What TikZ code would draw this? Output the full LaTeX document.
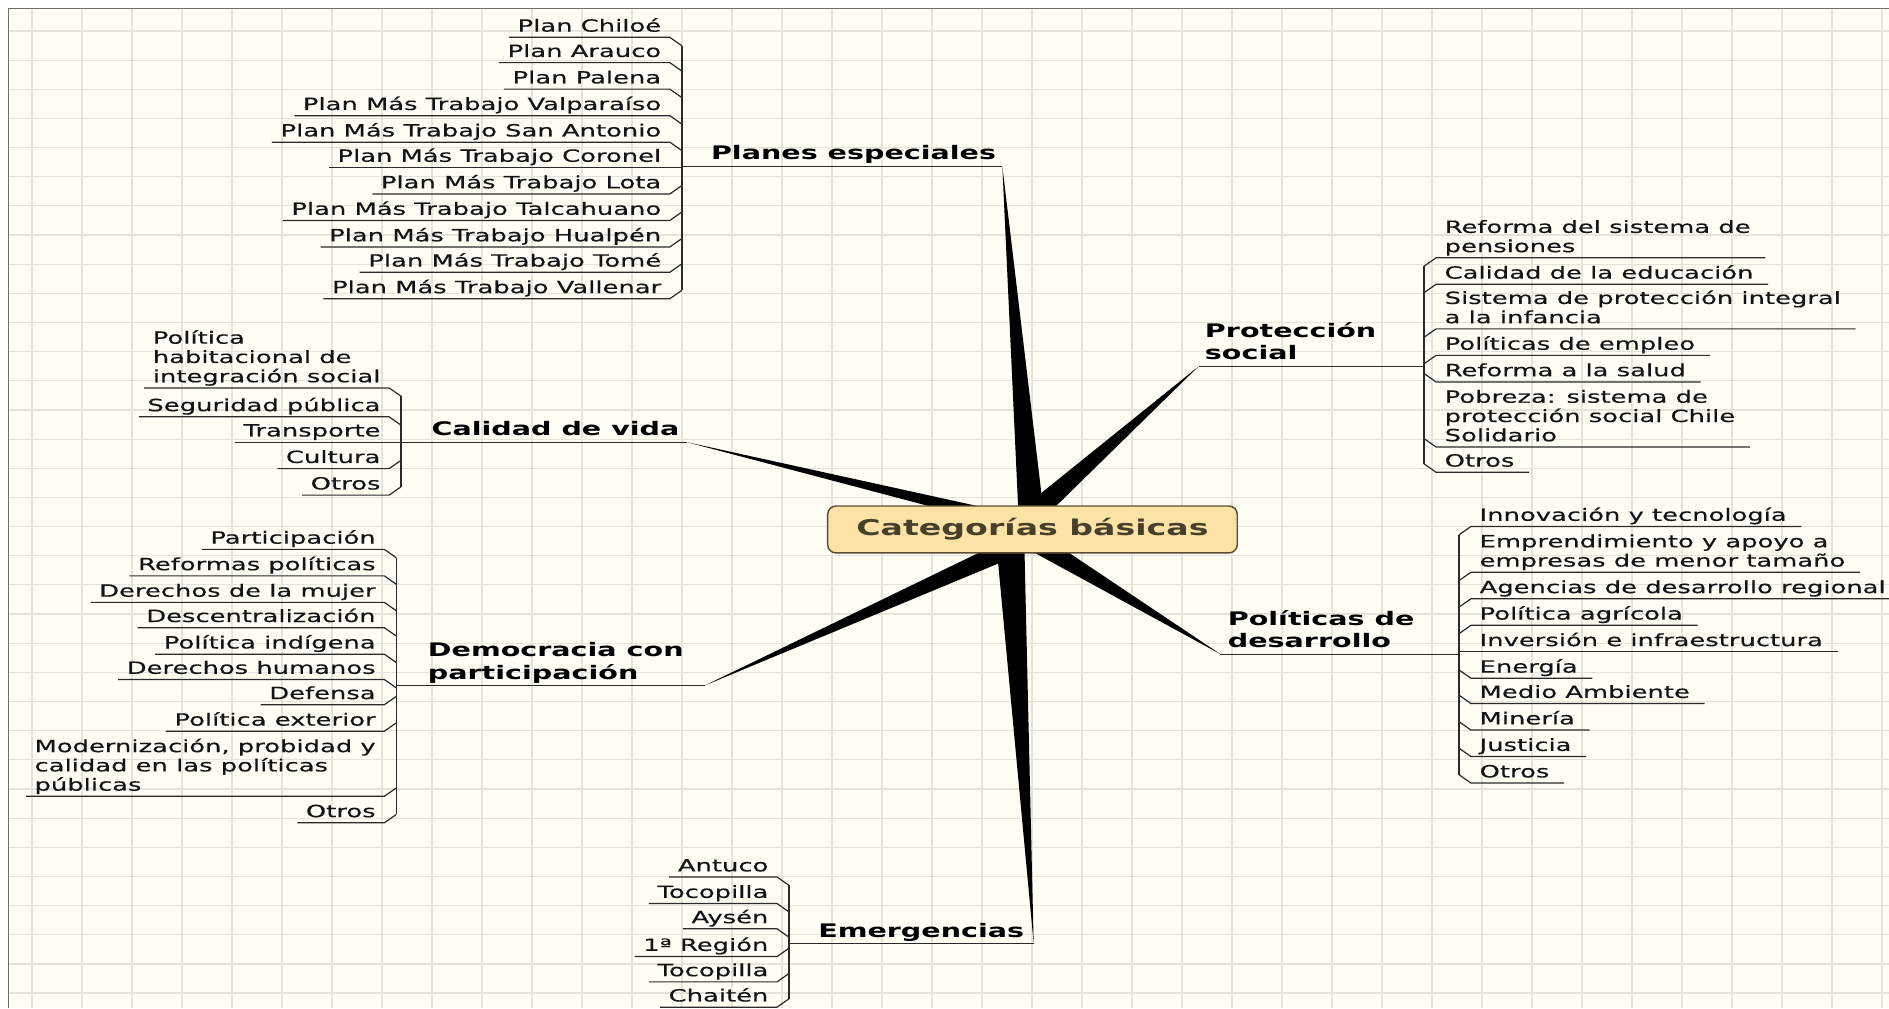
\documentclass[tikz,border=0pt]{standalone}
\usepackage{fontspec}
\setmainfont{DejaVu Sans}[FakeStretch=1.53,UprightFeatures={FakeBold=0.35}]
\usetikzlibrary{calc}

\definecolor{paper}{HTML}{FEFEF4}
\definecolor{gridc}{HTML}{E4E4DA}
\definecolor{framec}{HTML}{6E6E66}
\definecolor{linec}{HTML}{2A2A2A}
\definecolor{boxfill}{HTML}{FCE2A5}
\definecolor{boxline}{HTML}{5C4E34}
\definecolor{boxtext}{HTML}{463F2C}

\tikzset{
  itemL/.style={anchor=south east,inner xsep=7pt,inner ysep=4.5pt,text depth=0pt,align=left,text=black!92,font=\fontsize{14}{16}\selectfont},
  itemR/.style={itemL,anchor=south west},
  headL/.style={anchor=south west,inner xsep=0pt,inner ysep=5pt,text depth=0pt,align=left,font=\bfseries\fontsize{15.5}{19}\selectfont},
  uline/.style={draw=linec,line width=1pt},
  bracket/.style={draw=linec,line width=1.4pt},
  spoke/.style={fill=black},
  gridline/.style={draw=gridc,line width=1pt}
}

\begin{document}
\begin{tikzpicture}[x=1pt,y=-1pt]
\useasboundingbox (0,0) rectangle (1568,837);
\fill[white] (0,0) rectangle (1568,837);
\fill[paper] (7,7) rectangle (1568,837);
\foreach \i in {0,...,37} \draw[gridline] ({26.6+41.5*\i},7) -- ({26.6+41.5*\i},837);
\foreach \j in {0,...,33} \draw[gridline] (7,{25.7+24.2*\j}) -- (1568,{25.7+24.2*\j});
\draw[framec,line width=1pt] (7,837) -- (7,7) -- (1568,7);

% spokes
\coordinate (pl-t) at (832,138);  \coordinate (pl-b) at (857,440);
\coordinate (cv-t) at (570,367);  \coordinate (cv-b) at (872,440);
\coordinate (dp-t) at (585,569);  \coordinate (dp-b) at (872,440);
\coordinate (em-t) at (858,783);  \coordinate (em-b) at (838,440);
\coordinate (ps-t) at (995,304);  \coordinate (ps-b) at (842,440);
\coordinate (pd-t) at (1013,543); \coordinate (pd-b) at (843,440);
\foreach \n/\w in {pl/11pt,cv/6.5pt,dp/9pt,em/12pt,ps/10pt,pd/9pt}
  \fill[spoke] (\n-t) -- ($(\n-b)!\w!90:(\n-t)$) -- ($(\n-b)!\w!-90:(\n-t)$) -- cycle;

\node[draw=boxline,line width=1.2pt,fill=boxfill,rounded corners=7pt,minimum width=340pt,minimum height=39pt,
  text=boxtext,font=\bfseries\fontsize{18}{20}\selectfont] (cat) at (857,439.5) {Categorías básicas};

% Planes especiales
\node[headL] (pl) at (590,138) {Planes especiales};
\coordinate (pl-j) at (566,138);
\draw[uline] (pl-j) -- (pl-t);
\foreach \t/\y/\d [count=\i] in {Plan Chiloé/31/1, Plan Arauco/52/1, Plan Palena/74/1,
    Plan Más Trabajo Valparaíso/96/1, Plan Más Trabajo San Antonio/118/1, Plan Más Trabajo Coronel/139/0,
    Plan Más Trabajo Lota/161/-1, Plan Más Trabajo Talcahuano/183/-1, Plan Más Trabajo Hualpén/205/-1,
    Plan Más Trabajo Tomé/226/-1, Plan Más Trabajo Vallenar/248/-1}{
  \node[itemL] (pl\i) at (556,\y) {\t};
  \coordinate (pl\i-j) at (566,{\y+7*\d});
  \draw[uline] (pl\i.south west) -- (pl\i.south east) -- (pl\i-j);
}
\draw[bracket] (pl1-j) -- (pl11-j);

% Calidad de vida
\node[headL] (cv) at (358,367) {Calidad de vida};
\coordinate (cv-j) at (333,367);
\draw[uline] (cv-j) -- (cv-t);
\foreach \t/\y/\d [count=\i] in {{Política\\habitacional de\\integración social}/322/1, Seguridad pública/346/1,
    Transporte/367/0, Cultura/389/-1, Otros/411/-1}{
  \node[itemL] (cv\i) at (323,\y) {\t};
  \coordinate (cv\i-j) at (333,{\y+7*\d});
  \draw[uline] (cv\i.south west) -- (cv\i.south east) -- (cv\i-j);
}
\draw[bracket] (cv1-j) -- (cv5-j);

% Democracia con participacion
\node[headL] (dp) at (355,569) {Democracia con\\participación};
\coordinate (dp-j) at (329,569);
\draw[uline] (dp-j) -- (dp-t);
\foreach \t/\y/\d [count=\i] in {Participación/456/1, Reformas políticas/478/1, Derechos de la mujer/500/1,
    Descentralización/521/1, Política indígena/543/1, Derechos humanos/564/1, Defensa/585/-1,
    Política exterior/607/-1, {Modernización, probidad y\\calidad en las políticas\\públicas}/661/-1, Otros/683/-1}{
  \node[itemL] (dp\i) at (319,\y) {\t};
  \coordinate (dp\i-j) at (329,{\y+7*\d});
  \draw[uline] (dp\i.south west) -- (dp\i.south east) -- (dp\i-j);
}
\draw[bracket] (dp1-j) -- (dp10-j);

% Emergencias
\node[headL] (em) at (679,783) {Emergencias};
\coordinate (em-j) at (655,783);
\draw[uline] (em-j) -- (em-t);
\foreach \t/\y/\d [count=\i] in {Antuco/728/1, Tocopilla/750/1, Aysén/771/1,
    1ª Región/794/-1, Tocopilla/815/-1, Chaitén/836/-1}{
  \node[itemL] (em\i) at (645,\y) {\t};
  \coordinate (em\i-j) at (655,{\y+7*\d});
  \draw[uline] (em\i.south west) -- (em\i.south east) -- (em\i-j);
}
\draw[bracket] (em1-j) -- (em6-j);

% Proteccion social
\node[headL] (ps) at (1000,304) {Protección\\social};
\coordinate (ps-j) at (1182,304);
\draw[uline] (ps-t) -- (ps-j);
\foreach \t/\y/\d [count=\i] in {{Reforma del sistema de\\pensiones}/214/1, Calidad de la educación/236/1,
    {Sistema de protección integral\\a la infancia}/273/1, Políticas de empleo/295/1, Reforma a la salud/317/-1,
    {Pobreza: sistema de\\protección social Chile\\Solidario}/371/-1, Otros/392/-1}{
  \node[itemR] (ps\i) at (1192,\y) {\t};
  \coordinate (ps\i-j) at (1182,{\y+7*\d});
  \draw[uline] ([xshift=5pt]ps\i.south east) -- (ps\i.south west) -- (ps\i-j);
}
\draw[bracket] (ps1-j) -- (ps7-j);

% Politicas de desarrollo
\node[headL] (pd) at (1019,543) {Políticas de\\desarrollo};
\coordinate (pd-j) at (1211,543);
\draw[uline] (pd-t) -- (pd-j);
\foreach \t/\y/\d [count=\i] in {Innovación y tecnología/437/1, {Emprendimiento y apoyo a\\empresas de menor tamaño}/475/1,
    Agencias de desarrollo regional/497/1, Política agrícola/519/1, Inversión e infraestructura/541/0,
    Energía/563/-1, Medio Ambiente/584/-1, Minería/606/-1, Justicia/628/-1, Otros/650/-1}{
  \node[itemR] (pd\i) at (1221,\y) {\t};
  \coordinate (pd\i-j) at (1211,{\y+7*\d});
  \draw[uline] ([xshift=5pt]pd\i.south east) -- (pd\i.south west) -- (pd\i-j);
}
\draw[bracket] (pd1-j) -- (pd10-j);
\end{tikzpicture}
\end{document}
